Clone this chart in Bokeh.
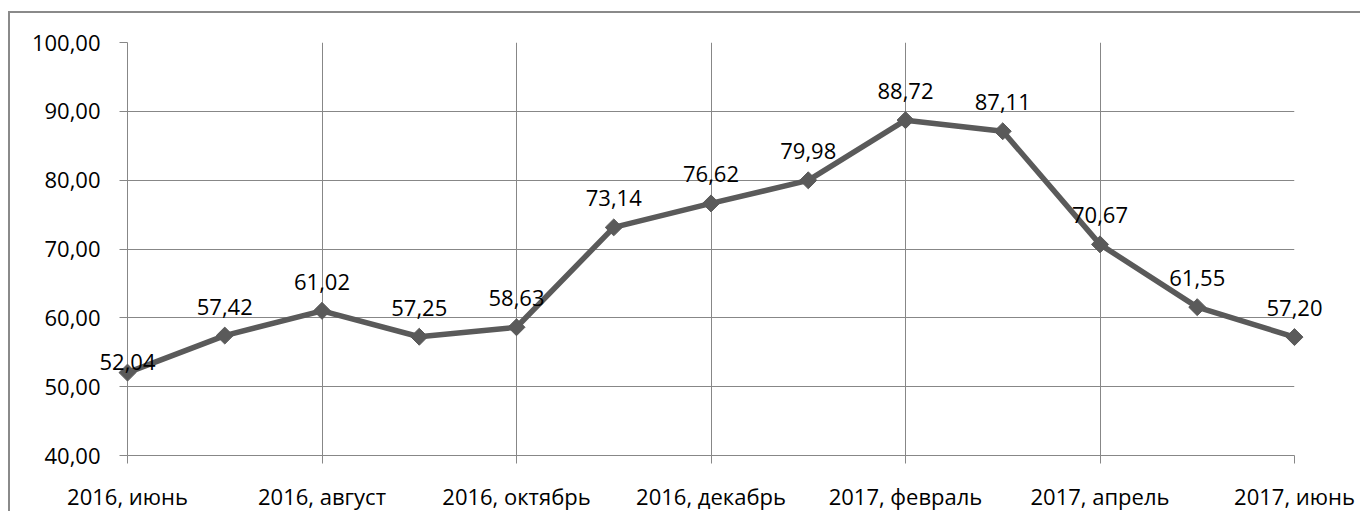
from bokeh.plotting import figure
from bokeh.models import ColumnDataSource, FixedTicker
from bokeh.core.properties import value
from bokeh.embed import file_html
from bokeh.resources import INLINE
import numpy as np

months = ["2016, июнь", "2016, июль", "2016, август", "2016, сентябрь",
          "2016, октябрь", "2016, ноябрь", "2016, декабрь", "2017, январь",
          "2017, февраль", "2017, март", "2017, апрель", "2017, май", "2017, июнь"]
values = [52.04, 57.42, 61.02, 57.25, 58.63, 73.14, 76.62, 79.98,
          88.72, 87.11, 70.67, 61.55, 57.20]
y_ticks = [40, 50, 60, 70, 80, 90, 100]
x_label_months = [0, 2, 4, 6, 8, 10, 12]

def fmt(v):
    return f"{v:.2f}".replace(".", ",")

idx = list(range(len(months)))
labels = [fmt(v) for v in values]

src = ColumnDataSource(dict(x=idx, y=values, lab=labels))
src_first = ColumnDataSource(dict(x=idx[:1], y=values[:1], lab=labels[:1]))
src_rest = ColumnDataSource(dict(x=idx[1:], y=values[1:], lab=labels[1:]))

FONT = "Open Sans"
GRID = "#878787"
LINE = "#5a5a5a"

p = figure(frame_width=1167, frame_height=413, output_backend="svg", toolbar_location=None,
           x_range=(0, 12), y_range=(40, 100),
           min_border_left=117, min_border_top=29, min_border_right=66,
           min_border_bottom=40)
p.styles = {"border-left": "2px solid #8a8a8a", "border-top": "2px solid #8a8a8a",
            "transform": "translate(8px, 11px)"}
p.outline_line_color = None
p.background_fill_color = "white"
p.border_fill_color = None

p.xaxis.ticker = FixedTicker(ticks=x_label_months)
p.xaxis.major_label_overrides = {i: months[i] for i in x_label_months}
p.yaxis.ticker = FixedTicker(ticks=y_ticks)
p.yaxis.major_label_overrides = {t: fmt(t) for t in y_ticks}
p.xgrid.ticker = FixedTicker(ticks=x_label_months)
p.ygrid.ticker = FixedTicker(ticks=y_ticks)

for ax in (p.xaxis, p.yaxis):
    ax.axis_line_color = GRID
    ax.axis_line_width = 1
    ax.major_tick_line_color = GRID
    ax.major_tick_in = 0
    ax.major_tick_out = 8
    ax.minor_tick_line_color = None
    ax.major_label_text_font = FONT
    ax.major_label_text_font_size = "22px"
    ax.major_label_text_color = "black"
p.yaxis.major_label_standoff = 19
p.xaxis.major_label_standoff = 17

p.grid.grid_line_color = GRID
p.grid.grid_line_width = 1

p.line("x", "y", source=src, line_color=LINE, line_width=5.5, level="overlay")
p.scatter("x", "y", source=src, marker="square", angle=np.pi / 4, size=12,
          fill_color=LINE, line_color=LINE, level="overlay")

for s, off in ((src_rest, -29), (src_first, -11)):
    p.text("x", "y", text="lab", source=s, y_offset=off, level="overlay",
           text_align="center", text_baseline="alphabetic",
           text_font=value(FONT), text_font_size="22px", text_color="black")

open("out.html", "w").write(file_html(p, INLINE))
